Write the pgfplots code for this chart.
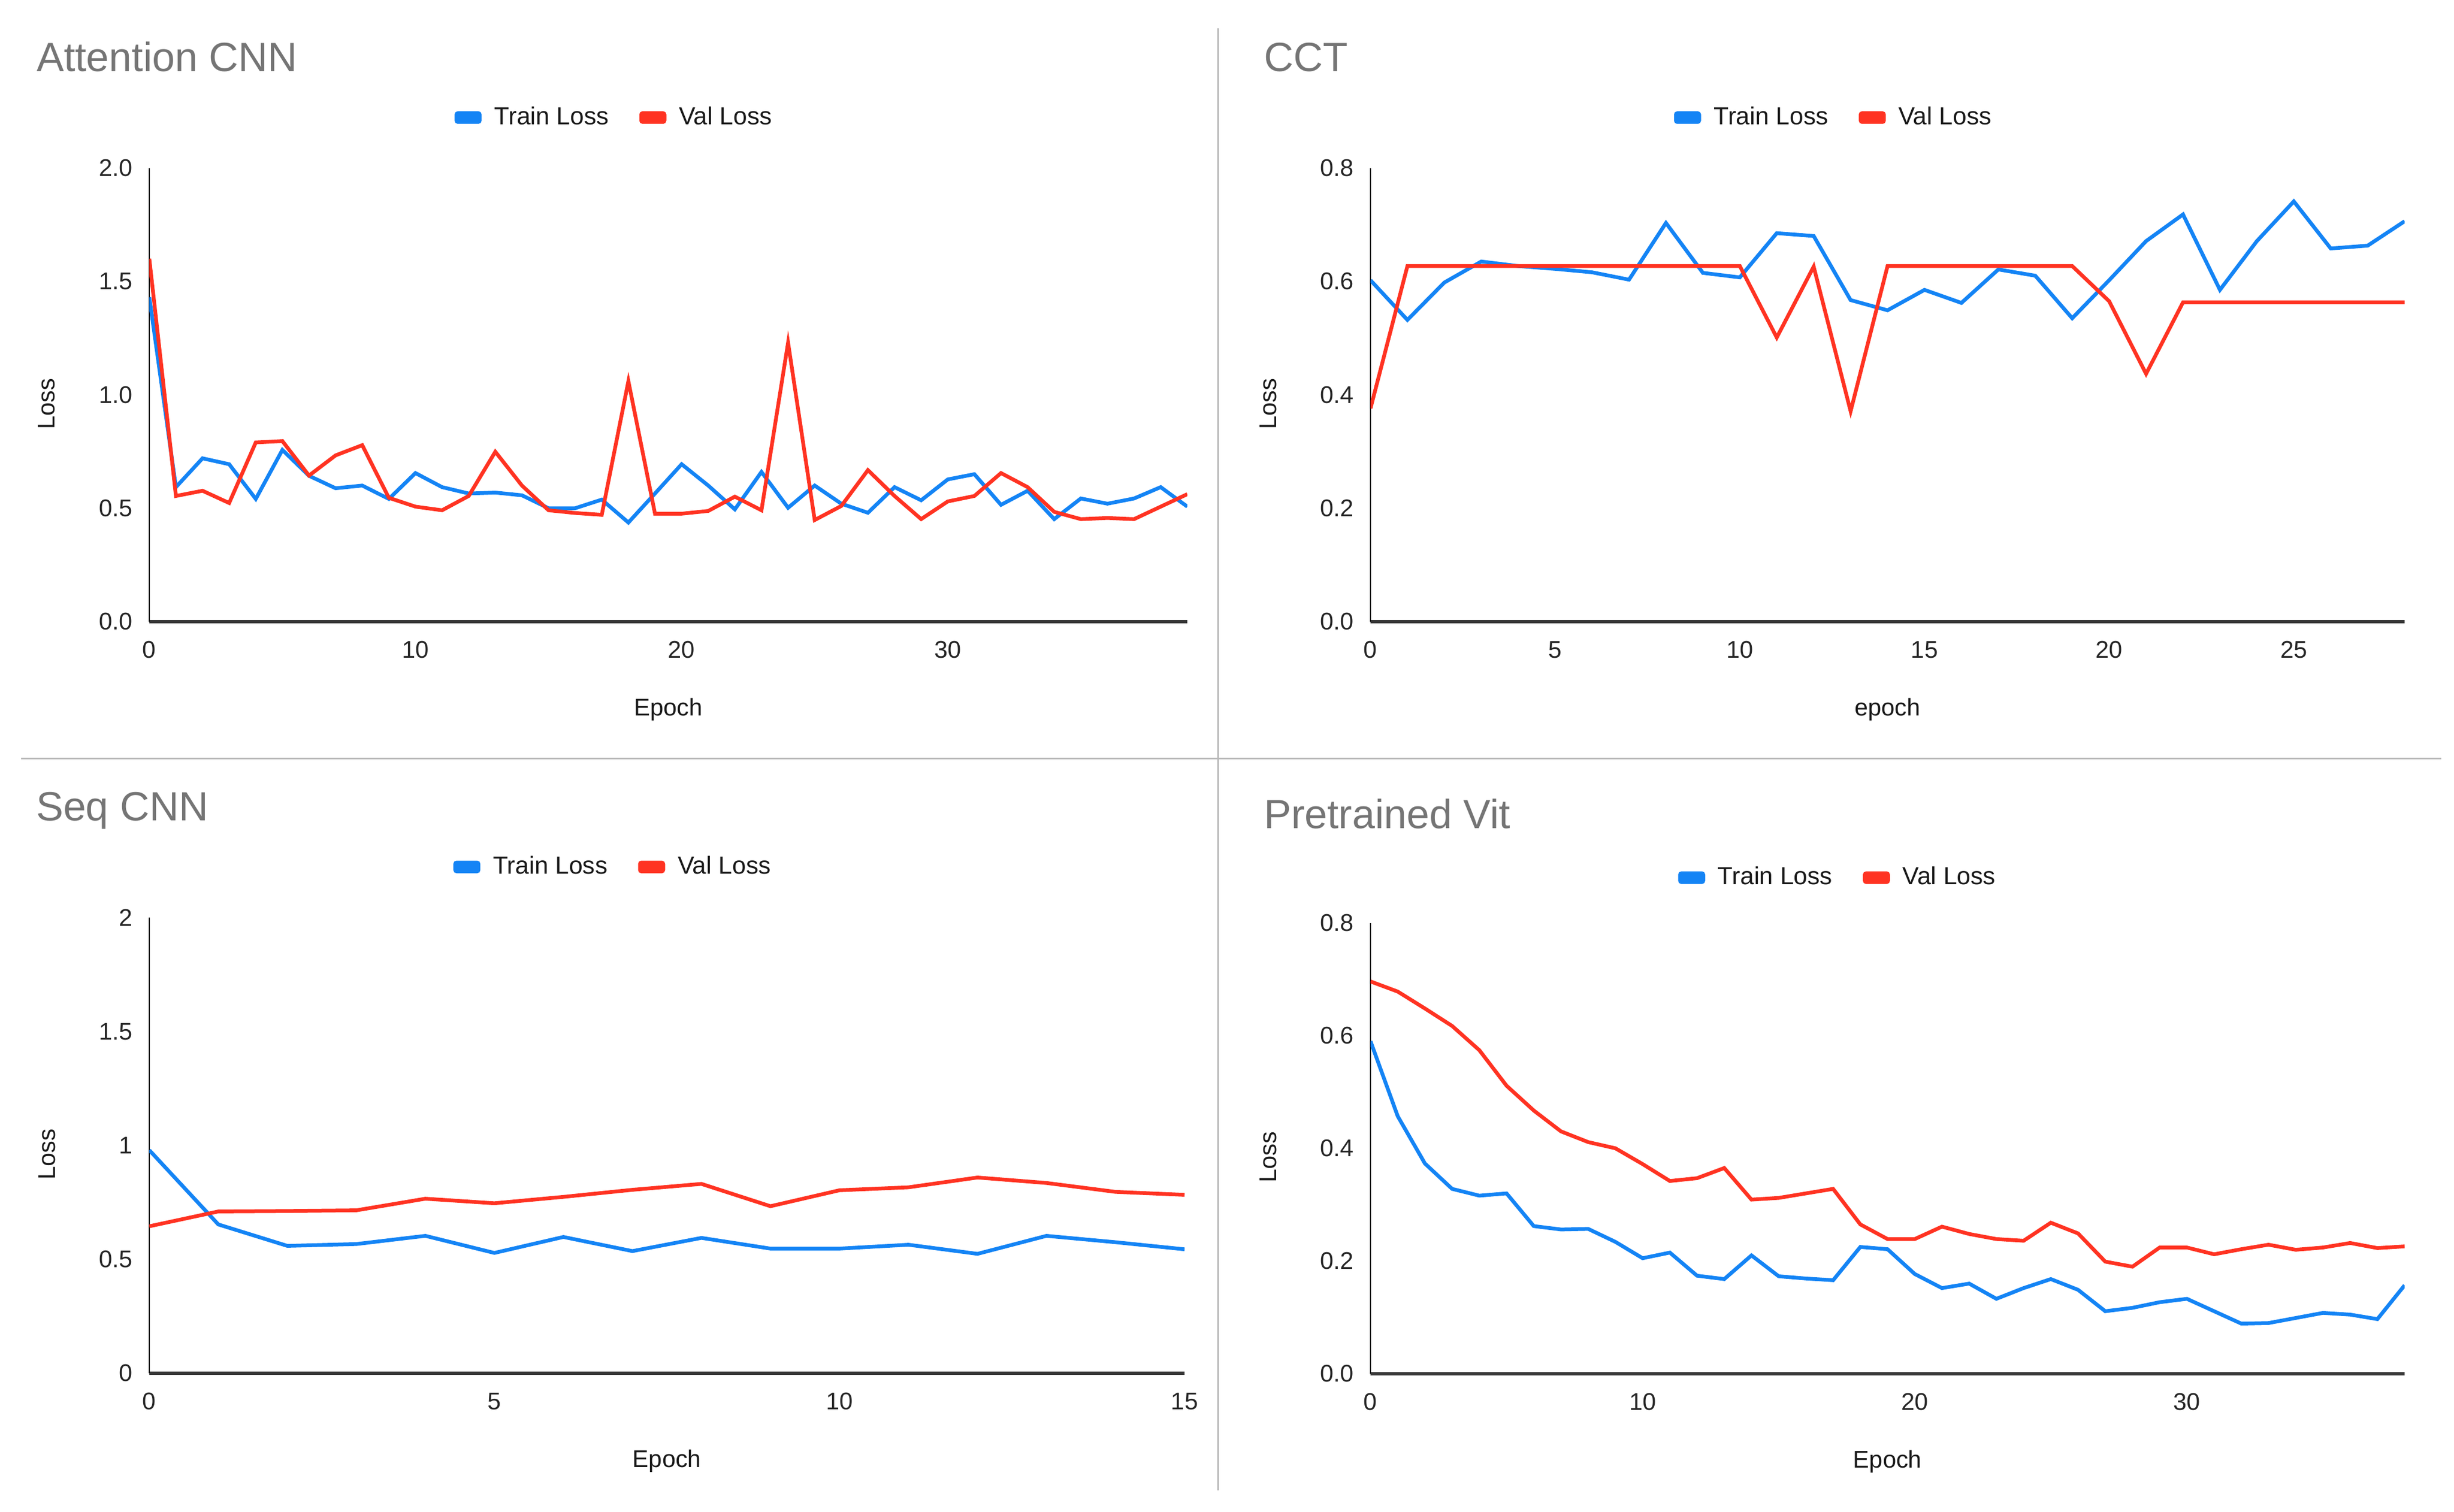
\documentclass[border=0pt]{standalone}
\usepackage{fontspec}
\setmainfont{Liberation Sans}
\usepackage{pgfplots}
\pgfplotsset{compat=1.18}

\definecolor{trainblue}{RGB}{20,132,245}
\definecolor{valred}{RGB}{255,51,34}
\definecolor{titlegray}{RGB}{117,117,117}
\definecolor{divgray}{RGB}{185,185,185}
\definecolor{xaxisgray}{RGB}{55,55,55}

\pgfplotsset{
  lossplot/.style={
    scale only axis,
    width=374pt, height=163.5pt,
    anchor=south west,
    axis x line*=bottom, axis y line*=left,
    x axis line style={-, line width=1.2pt, xaxisgray},
    y axis line style={-, line width=0.4pt, black},
    major tick length=0pt,
    ymin=0,
    tick label style={font=\fontsize{8.7}{10}\selectfont, color=black!85},
    /pgf/number format/assume math mode=true,
    xticklabel style={yshift=-3.5pt},
    yticklabel style={xshift=-2.5pt},
    label style={font=\fontsize{8.7}{10}\selectfont, color=black!90},
    xlabel style={at={(axis description cs:0.5,0)}, anchor=center, yshift=-31.6pt},
    ylabel style={at={(axis description cs:-0.099,0.48)}, anchor=center},
    ylabel={Loss},
    legend columns=2,
    legend style={at={(0.447,1.111)}, anchor=center, draw=none, fill=none,
      font=\fontsize{8.9}{10}\selectfont, text=black!90,
      nodes={inner sep=0pt},
      /tikz/every odd column/.append style={column sep=4.6pt},
      /tikz/every even column/.append style={column sep=11pt}},
    legend image code/.code={\fill[rounded corners=0.6pt] (0pt,-1.6pt) rectangle (8.4pt,1.6pt);},
    every axis plot/.append style={line width=1.35pt, line join=miter, mark=none},
  },
  trainstyle/.style={color=trainblue},
  valstyle/.style={color=valred},
}

\begin{document}
\begin{tikzpicture}
\path[use as bounding box] (0pt,0pt) rectangle (884.2pt,544.6pt);

% dividers
\draw[divgray, line width=0.6pt] (438.8pt,534.4pt) -- (438.8pt,7.6pt);
\draw[divgray, line width=0.6pt] (7.6pt,271.4pt) -- (879.6pt,271.4pt);

% titles
\node[anchor=base west, inner sep=0pt, titlegray, font=\fontsize{14.7}{16}\selectfont] at (13pt,518.8pt) {Attention CNN};
\node[anchor=base west, inner sep=0pt, titlegray, font=\fontsize{14.7}{16}\selectfont] at (455.2pt,518.8pt) {CCT};
\node[anchor=base west, inner sep=0pt, titlegray, font=\fontsize{14.7}{16}\selectfont] at (12.8pt,249pt) {Seq CNN};
\node[anchor=base west, inner sep=0pt, titlegray, font=\fontsize{14.7}{16}\selectfont] at (455.2pt,246.2pt) {Pretrained Vit};

% Attention CNN
\begin{axis}[lossplot, at={(53.8pt,320.6pt)},
  xmin=0, xmax=39, ymax=2.0, xtick={0,10,20,30}, ytick={0,0.5,1,1.5,2},
  yticklabel style={/pgf/number format/.cd, fixed, fixed zerofill, precision=1},
  xlabel={Epoch}]
\addplot[trainstyle] coordinates {
(0,1.43) (1,0.593) (2,0.72) (3,0.694) (4,0.541) (5,0.757) (6,0.643) (7,0.588)
(8,0.60) (9,0.541) (10,0.655) (11,0.593) (12,0.565) (13,0.569) (14,0.557)
(15,0.50) (16,0.50) (17,0.538) (18,0.437) (19,0.565) (20,0.694) (21,0.60)
(22,0.495) (23,0.66) (24,0.502) (25,0.60) (26,0.52) (27,0.48) (28,0.593)
(29,0.535) (30,0.627) (31,0.65) (32,0.515) (33,0.577) (34,0.452) (35,0.543)
(36,0.52) (37,0.543) (38,0.593) (39,0.507)};
\addlegendentry{Train Loss}
\addplot[valstyle] coordinates {
(0,1.60) (1,0.554) (2,0.577) (3,0.523) (4,0.79) (5,0.796) (6,0.644) (7,0.733)
(8,0.778) (9,0.546) (10,0.507) (11,0.491) (12,0.554) (13,0.749) (14,0.60)
(15,0.491) (16,0.479) (17,0.471) (18,1.06) (19,0.476) (20,0.476) (21,0.488)
(22,0.551) (23,0.491) (24,1.23) (25,0.448) (26,0.51) (27,0.668) (28,0.554)
(29,0.452) (30,0.53) (31,0.554) (32,0.655) (33,0.593) (34,0.484) (35,0.452)
(36,0.457) (37,0.452) (38,0.507) (39,0.562)};
\addlegendentry{Val Loss}
\end{axis}

% CCT
\begin{axis}[lossplot, at={(493.8pt,320.6pt)}, width=372.6pt,
  xmin=0, xmax=28, ymax=0.8, xtick={0,5,10,15,20,25}, ytick={0,0.2,0.4,0.6,0.8},
  yticklabel style={/pgf/number format/.cd, fixed, fixed zerofill, precision=1},
  xlabel={epoch}]
\addplot[trainstyle] coordinates {
(0,0.602) (1,0.532) (2,0.598) (3,0.635) (4,0.627) (5,0.622) (6,0.616) (7,0.603)
(8,0.703) (9,0.615) (10,0.607) (11,0.685) (12,0.680) (13,0.567) (14,0.549)
(15,0.585) (16,0.562) (17,0.621) (18,0.61) (19,0.535) (20,0.602) (21,0.671)
(22,0.718) (23,0.585) (24,0.671) (25,0.741) (26,0.658) (27,0.663) (28,0.706)};
\addlegendentry{Train Loss}
\addplot[valstyle] coordinates {
(0,0.376) (1,0.627) (2,0.627) (3,0.627) (4,0.627) (5,0.627) (6,0.627) (7,0.627)
(8,0.627) (9,0.627) (10,0.627) (11,0.501) (12,0.626) (13,0.371) (14,0.627)
(15,0.627) (16,0.627) (17,0.627) (18,0.627) (19,0.627) (20,0.565) (21,0.437)
(22,0.563) (23,0.563) (24,0.563) (25,0.563) (26,0.563) (27,0.563) (28,0.563)};
\addlegendentry{Val Loss}
\end{axis}

% Seq CNN
\begin{axis}[lossplot, at={(53.8pt,49.8pt)}, width=373pt, height=164.2pt,
  xmin=0, xmax=15, ymax=2, xtick={0,5,10,15}, ytick={0,0.5,1,1.5,2},
  xlabel={Epoch}]
\addplot[trainstyle] coordinates {
(0,0.979) (1,0.653) (2,0.559) (3,0.567) (4,0.603) (5,0.528) (6,0.598) (7,0.536)
(8,0.594) (9,0.547) (10,0.547) (11,0.564) (12,0.524) (13,0.603) (14,0.575) (15,0.544)};
\addlegendentry{Train Loss}
\addplot[valstyle] coordinates {
(0,0.645) (1,0.710) (2,0.712) (3,0.715) (4,0.766) (5,0.746) (6,0.774) (7,0.805)
(8,0.831) (9,0.733) (10,0.803) (11,0.816) (12,0.859) (13,0.835) (14,0.796) (15,0.783)};
\addlegendentry{Val Loss}
\end{axis}

% Pretrained Vit
\begin{axis}[lossplot, at={(493.8pt,49.6pt)}, width=372.6pt, height=162.5pt,
  xmin=0, xmax=38, ymax=0.8, xtick={0,10,20,30}, ytick={0,0.2,0.4,0.6,0.8},
  yticklabel style={/pgf/number format/.cd, fixed, fixed zerofill, precision=1},
  legend style={at={(0.451,1.100)}},
  xlabel={Epoch}]
\addplot[trainstyle] coordinates {
(0,0.59) (1,0.457) (2,0.373) (3,0.328) (4,0.316) (5,0.32) (6,0.262) (7,0.256)
(8,0.257) (9,0.234) (10,0.205) (11,0.215) (12,0.174) (13,0.168) (14,0.21)
(15,0.173) (16,0.169) (17,0.166) (18,0.225) (19,0.221) (20,0.177) (21,0.152)
(22,0.16) (23,0.133) (24,0.152) (25,0.168) (26,0.149) (27,0.111) (28,0.117)
(29,0.127) (30,0.133) (31,0.111) (32,0.089) (33,0.09) (34,0.099) (35,0.108)
(36,0.105) (37,0.097) (38,0.157)};
\addlegendentry{Train Loss}
\addplot[valstyle] coordinates {
(0,0.696) (1,0.678) (2,0.648) (3,0.617) (4,0.574) (5,0.511) (6,0.467) (7,0.43)
(8,0.411) (9,0.40) (10,0.372) (11,0.342) (12,0.347) (13,0.365) (14,0.309)
(15,0.312) (16,0.32) (17,0.328) (18,0.265) (19,0.239) (20,0.239) (21,0.261)
(22,0.248) (23,0.239) (24,0.236) (25,0.268) (26,0.249) (27,0.199) (28,0.19)
(29,0.224) (30,0.224) (31,0.212) (32,0.221) (33,0.229) (34,0.22) (35,0.224)
(36,0.232) (37,0.223) (38,0.226)};
\addlegendentry{Val Loss}
\end{axis}
\end{tikzpicture}
\end{document}
